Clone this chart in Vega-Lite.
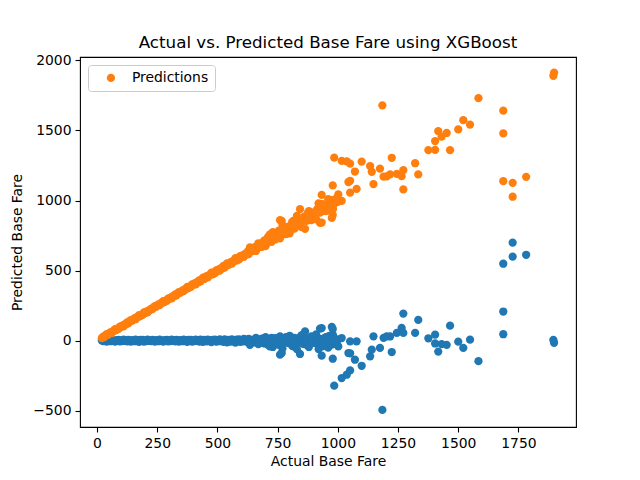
{
  "$schema": "https://vega.github.io/schema/vega-lite/v6.json",
  "width": 496,
  "height": 370,
  "autosize": {"type": "none"},
  "padding": {"left": 80, "top": 57, "right": 64, "bottom": 53},
  "background": "white",
  "title": {"text": "Actual vs. Predicted Base Fare using XGBoost", "font": "DejaVu Sans", "fontSize": 16.7, "fontWeight": "normal", "color": "black", "offset": 2},
  "config": {
    "view": {"stroke": "black", "strokeWidth": 1.1},
    "axis": {"domain": false, "grid": false, "format": "d", "labelFont": "DejaVu Sans", "titleFont": "DejaVu Sans", "labelFontSize": 13.9, "titleFontSize": 13.9, "labelColor": "black", "titleColor": "black", "titleFontWeight": "normal", "tickColor": "black", "tickSize": 5, "tickWidth": 1.1}
  },
  "data": {"values": [
    {"actual":20,"predicted":18,"residual":2},{"actual":25,"predicted":28,"residual":-3},{"actual":30,"predicted":25,"residual":5},{"actual":35,"predicted":36,"residual":-1},{"actual":40,"predicted":46,"residual":-6},
    {"actual":45,"predicted":42,"residual":3},{"actual":50,"predicted":50,"residual":0},{"actual":55,"predicted":59,"residual":-4},{"actual":60,"predicted":53,"residual":7},{"actual":65,"predicted":67,"residual":-2},
    {"actual":70,"predicted":69,"residual":1},{"actual":75,"predicted":82,"residual":-7},{"actual":80,"predicted":76,"residual":4},{"actual":85,"predicted":86,"residual":-1},{"actual":90,"predicted":84,"residual":6},
    {"actual":95,"predicted":100,"residual":-5},{"actual":100,"predicted":98,"residual":2},{"actual":105,"predicted":108,"residual":-3},{"actual":110,"predicted":102,"residual":8},{"actual":115,"predicted":117,"residual":-2},
    {"actual":120,"predicted":117,"residual":3},{"actual":125,"predicted":130,"residual":-5},{"actual":130,"predicted":124,"residual":6},{"actual":135,"predicted":137,"residual":-2},{"actual":140,"predicted":147,"residual":-7},
    {"actual":145,"predicted":141,"residual":4},{"actual":150,"predicted":149,"residual":1},{"actual":155,"predicted":159,"residual":-4},{"actual":160,"predicted":153,"residual":7},{"actual":165,"predicted":168,"residual":-3},
    {"actual":170,"predicted":168,"residual":2},{"actual":175,"predicted":183,"residual":-8},{"actual":180,"predicted":175,"residual":5},{"actual":185,"predicted":186,"residual":-1},{"actual":190,"predicted":184,"residual":6},
    {"actual":195,"predicted":201,"residual":-6},{"actual":200,"predicted":198,"residual":2},{"actual":205,"predicted":208,"residual":-3},{"actual":210,"predicted":202,"residual":8},{"actual":215,"predicted":217,"residual":-2},
    {"actual":220,"predicted":218,"residual":2},{"actual":225,"predicted":228,"residual":-3},{"actual":230,"predicted":225,"residual":5},{"actual":235,"predicted":236,"residual":-1},{"actual":240,"predicted":246,"residual":-6},
    {"actual":245,"predicted":242,"residual":3},{"actual":250,"predicted":250,"residual":0},{"actual":255,"predicted":259,"residual":-4},{"actual":260,"predicted":253,"residual":7},{"actual":265,"predicted":267,"residual":-2},
    {"actual":270,"predicted":269,"residual":1},{"actual":275,"predicted":282,"residual":-7},{"actual":280,"predicted":276,"residual":4},{"actual":285,"predicted":286,"residual":-1},{"actual":290,"predicted":284,"residual":6},
    {"actual":295,"predicted":300,"residual":-5},{"actual":300,"predicted":298,"residual":2},{"actual":305,"predicted":308,"residual":-3},{"actual":310,"predicted":302,"residual":8},{"actual":315,"predicted":317,"residual":-2},
    {"actual":320,"predicted":317,"residual":3},{"actual":325,"predicted":330,"residual":-5},{"actual":330,"predicted":324,"residual":6},{"actual":335,"predicted":337,"residual":-2},{"actual":340,"predicted":347,"residual":-7},
    {"actual":345,"predicted":341,"residual":4},{"actual":350,"predicted":349,"residual":1},{"actual":355,"predicted":359,"residual":-4},{"actual":360,"predicted":353,"residual":7},{"actual":365,"predicted":368,"residual":-3},
    {"actual":370,"predicted":368,"residual":2},{"actual":375,"predicted":383,"residual":-8},{"actual":380,"predicted":375,"residual":5},{"actual":385,"predicted":386,"residual":-1},{"actual":390,"predicted":384,"residual":6},
    {"actual":395,"predicted":401,"residual":-6},{"actual":400,"predicted":398,"residual":2},{"actual":405,"predicted":408,"residual":-3},{"actual":410,"predicted":402,"residual":8},{"actual":415,"predicted":417,"residual":-2},
    {"actual":420,"predicted":417,"residual":3},{"actual":425,"predicted":431,"residual":-6},{"actual":430,"predicted":423,"residual":7},{"actual":435,"predicted":437,"residual":-2},{"actual":440,"predicted":449,"residual":-9},
    {"actual":445,"predicted":440,"residual":5},{"actual":450,"predicted":449,"residual":1},{"actual":455,"predicted":460,"residual":-5},{"actual":460,"predicted":452,"residual":8},{"actual":465,"predicted":468,"residual":-3},
    {"actual":470,"predicted":468,"residual":2},{"actual":475,"predicted":485,"residual":-10},{"actual":480,"predicted":474,"residual":6},{"actual":485,"predicted":486,"residual":-1},{"actual":490,"predicted":482,"residual":8},
    {"actual":495,"predicted":502,"residual":-7},{"actual":500,"predicted":497,"residual":3},{"actual":505,"predicted":509,"residual":-4},{"actual":510,"predicted":500,"residual":10},{"actual":515,"predicted":518,"residual":-3},
    {"actual":520,"predicted":516,"residual":4},{"actual":525,"predicted":533,"residual":-8},{"actual":530,"predicted":521,"residual":9},{"actual":535,"predicted":538,"residual":-3},{"actual":540,"predicted":552,"residual":-12},
    {"actual":545,"predicted":539,"residual":6},{"actual":550,"predicted":549,"residual":1},{"actual":555,"predicted":561,"residual":-6},{"actual":560,"predicted":550,"residual":10},{"actual":565,"predicted":569,"residual":-4},
    {"actual":570,"predicted":567,"residual":3},{"actual":575,"predicted":589,"residual":-14},{"actual":580,"predicted":572,"residual":8},{"actual":585,"predicted":587,"residual":-2},{"actual":590,"predicted":580,"residual":10},
    {"actual":595,"predicted":604,"residual":-9},{"actual":600,"predicted":596,"residual":4},{"actual":605,"predicted":610,"residual":-5},{"actual":610,"predicted":598,"residual":12},{"actual":615,"predicted":619,"residual":-4},
    {"actual":620,"predicted":615,"residual":5},{"actual":625,"predicted":635,"residual":-10},{"actual":630,"predicted":618,"residual":12},{"actual":635,"predicted":639,"residual":-4},{"actual":640,"predicted":655,"residual":-15},
    {"actual":645,"predicted":640,"residual":5},{"actual":655,"predicted":667,"residual":-12},{"actual":665,"predicted":657,"residual":8},{"actual":675,"predicted":680,"residual":-5},{"actual":685,"predicted":670,"residual":15},
    {"actual":695,"predicted":715,"residual":-20},{"actual":705,"predicted":695,"residual":10},{"actual":715,"predicted":723,"residual":-8},{"actual":725,"predicted":705,"residual":20},{"actual":735,"predicted":750,"residual":-15},
    {"actual":745,"predicted":740,"residual":5},{"actual":755,"predicted":785,"residual":-30},{"actual":765,"predicted":753,"residual":12},{"actual":775,"predicted":783,"residual":-8},{"actual":785,"predicted":760,"residual":25},
    {"actual":795,"predicted":813,"residual":-18},{"actual":805,"predicted":795,"residual":10},{"actual":815,"predicted":855,"residual":-40},{"actual":825,"predicted":810,"residual":15},{"actual":835,"predicted":845,"residual":-10},
    {"actual":845,"predicted":817,"residual":28},{"actual":855,"predicted":875,"residual":-20},{"actual":865,"predicted":860,"residual":5},{"actual":875,"predicted":910,"residual":-35},{"actual":885,"predicted":865,"residual":20},
    {"actual":895,"predicted":903,"residual":-8},{"actual":905,"predicted":875,"residual":30},{"actual":915,"predicted":940,"residual":-25},{"actual":925,"predicted":913,"residual":12},{"actual":935,"predicted":975,"residual":-40},
    {"actual":945,"predicted":927,"residual":18},{"actual":955,"predicted":965,"residual":-10},{"actual":965,"predicted":930,"residual":35},{"actual":975,"predicted":1003,"residual":-28},{"actual":985,"predicted":977,"residual":8},
    {"actual":995,"predicted":1010,"residual":-15},
    {"actual":650,"predicted":658,"residual":-8},{"actual":660,"predicted":640,"residual":20},{"actual":670,"predicted":695,"residual":-25},{"actual":680,"predicted":670,"residual":10},{"actual":690,"predicted":705,"residual":-15},
    {"actual":700,"predicted":675,"residual":25},{"actual":710,"predicted":740,"residual":-30},{"actual":720,"predicted":715,"residual":5},{"actual":730,"predicted":775,"residual":-45},
    {"actual":740,"predicted":722,"residual":18},{"actual":750,"predicted":770,"residual":-20},{"actual":760,"predicted":730,"residual":30},{"actual":770,"predicted":825,"residual":-55},
    {"actual":780,"predicted":768,"residual":12},{"actual":790,"predicted":800,"residual":-10},{"actual":800,"predicted":765,"residual":35},{"actual":810,"predicted":845,"residual":-35},
    {"actual":820,"predicted":800,"residual":20},{"actual":830,"predicted":890,"residual":-60},{"actual":840,"predicted":832,"residual":8},{"actual":850,"predicted":810,"residual":40},
    {"actual":860,"predicted":885,"residual":-25},{"actual":870,"predicted":855,"residual":15},{"actual":880,"predicted":925,"residual":-45},{"actual":890,"predicted":860,"residual":30},
    {"actual":900,"predicted":915,"residual":-15},{"actual":910,"predicted":865,"residual":45},{"actual":920,"predicted":980,"residual":-60},{"actual":930,"predicted":920,"residual":10},
    {"actual":940,"predicted":970,"residual":-30},{"actual":950,"predicted":925,"residual":25},{"actual":960,"predicted":1010,"residual":-50},{"actual":970,"predicted":965,"residual":5},
    {"actual":980,"predicted":940,"residual":40},{"actual":990,"predicted":1010,"residual":-20},{"actual":1000,"predicted":990,"residual":10},
    {"actual":635,"predicted":665,"residual":-30},{"actual":718,"predicted":758,"residual":-40},{"actual":760,"predicted":860,"residual":-100},{"actual":767,"predicted":855,"residual":-88},
    {"actual":843,"predicted":938,"residual":-95},{"actual":864,"predicted":798,"residual":66},{"actual":926,"predicted":840,"residual":86},{"actual":933,"predicted":843,"residual":90},
    {"actual":933,"predicted":1040,"residual":-107},{"actual":975,"predicted":876,"residual":99},{"actual":979,"predicted":896,"residual":83},{"actual":979,"predicted":1108,"residual":-129},
    {"actual":985,"predicted":1306,"residual":-321},{"actual":1002,"predicted":1043,"residual":-41},{"actual":1016,"predicted":1283,"residual":-267},{"actual":1016,"predicted":997,"residual":19},
    {"actual":1037,"predicted":1280,"residual":-243},{"actual":1044,"predicted":1132,"residual":-88},{"actual":1051,"predicted":1263,"residual":-212},{"actual":1051,"predicted":1141,"residual":-90},
    {"actual":1051,"predicted":1056,"residual":-5},{"actual":1071,"predicted":1207,"residual":-136},{"actual":1078,"predicted":1083,"residual":-5},{"actual":1099,"predicted":1278,"residual":-179},
    {"actual":1134,"predicted":1246,"residual":-112},{"actual":1141,"predicted":1205,"residual":-64},{"actual":1148,"predicted":1117,"residual":31},{"actual":1175,"predicted":1227,"residual":-52},
    {"actual":1185,"predicted":1679,"residual":-494},{"actual":1190,"predicted":1170,"residual":20},{"actual":1203,"predicted":1172,"residual":31},{"actual":1217,"predicted":1187,"residual":30},
    {"actual":1224,"predicted":1305,"residual":-81},{"actual":1245,"predicted":1190,"residual":55},{"actual":1265,"predicted":1174,"residual":91},{"actual":1272,"predicted":1217,"residual":55},
    {"actual":1272,"predicted":1079,"residual":193},{"actual":1321,"predicted":1266,"residual":55},{"actual":1334,"predicted":1186,"residual":148},{"actual":1376,"predicted":1359,"residual":17},
    {"actual":1404,"predicted":1361,"residual":43},{"actual":1404,"predicted":1424,"residual":-20},{"actual":1417,"predicted":1495,"residual":-78},{"actual":1431,"predicted":1456,"residual":-25},
    {"actual":1452,"predicted":1482,"residual":-30},{"actual":1466,"predicted":1359,"residual":107},{"actual":1500,"predicted":1507,"residual":-7},{"actual":1521,"predicted":1573,"residual":-52},
    {"actual":1549,"predicted":1542,"residual":7},{"actual":1584,"predicted":1730,"residual":-146},{"actual":1687,"predicted":1641,"residual":46},{"actual":1687,"predicted":1479,"residual":208},
    {"actual":1687,"predicted":1138,"residual":549},{"actual":1726,"predicted":1126,"residual":600},{"actual":1726,"predicted":1027,"residual":699},{"actual":1782,"predicted":1169,"residual":613},
    {"actual":1895,"predicted":1890,"residual":5},{"actual":1898,"predicted":1913,"residual":-15}
  ]},
  "layer": [
    {
      "mark": {"type": "point", "filled": true, "opacity": 1, "size": 68, "color": "#1f77b4"},
      "encoding": {
        "x": {"field": "actual", "type": "quantitative", "scale": {"domain": [-70.6, 1989], "nice": false, "zero": false}, "axis": {"title": "Actual Base Fare", "values": [0,250,500,750,1000,1250,1500,1750], "labelPadding": 4, "titlePadding": 5}},
        "y": {"field": "residual", "type": "quantitative", "scale": {"domain": [-616, 2024], "nice": false, "zero": false}, "axis": {"title": "Predicted Base Fare", "values": [-500,0,500,1000,1500,2000], "labelPadding": 4, "titlePadding": 8}}
      }
    },
    {
      "mark": {"type": "point", "filled": true, "opacity": 1, "size": 68},
      "encoding": {
        "x": {"field": "actual", "type": "quantitative"},
        "y": {"field": "predicted", "type": "quantitative"},
        "color": {"datum": "Predictions", "type": "nominal", "scale": {"range": ["#ff7f0e"]},
          "legend": {"title": null, "orient": "top-left", "offset": 8, "padding": 6, "symbolOffset": 10, "labelOffset": 14, "symbolSize": 68, "symbolType": "circle", "labelFont": "DejaVu Sans", "labelFontSize": 13.9, "labelColor": "black", "strokeColor": "#cccccc", "fillColor": "white", "cornerRadius": 3}}
      }
    }
  ]
}
